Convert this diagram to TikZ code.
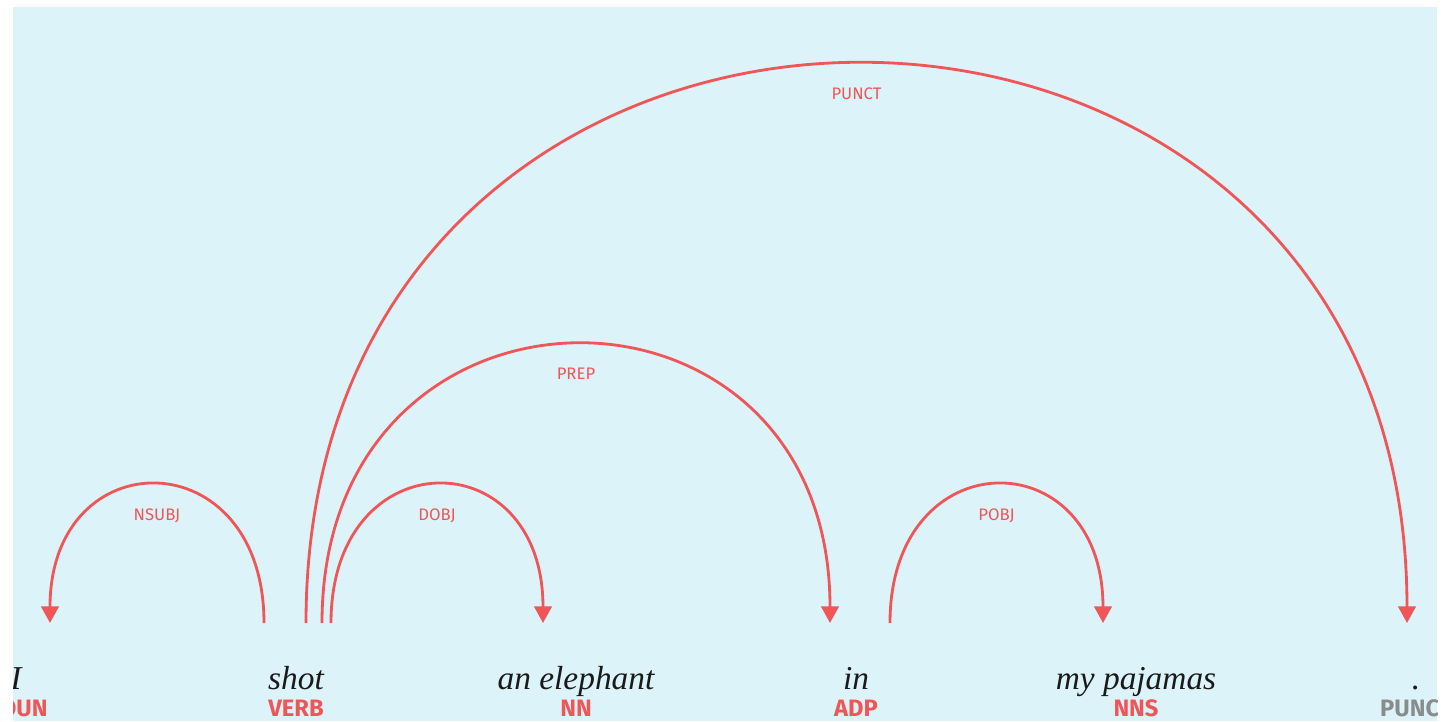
\documentclass[tikz,border=0pt]{standalone}
\usepackage{fontspec}
\setmainfont{Liberation Serif}
\newfontfamily\tagfont{Fira Sans}
\usetikzlibrary{arrows.meta,positioning,calc}
\definecolor{CieloPalido}{RGB}{221,243,250}
\definecolor{RojoArco}{RGB}{239,86,88}
\definecolor{GrisTag}{RGB}{136,140,140}
\definecolor{TintaTexto}{RGB}{26,26,26}
\tikzset{
  wordnode/.style={anchor=base, inner sep=0pt, text=TintaTexto,
    font=\fontsize{19}{21}\selectfont\itshape},
  tagnode/.style={anchor=base, inner sep=0pt, text=#1,
    font=\tagfont\bfseries\fontsize{13.5}{15}\selectfont},
  tagnode/.default=RojoArco,
  arclabel/.style={inner sep=0pt, text=RojoArco,
    font=\tagfont\fontsize{9.5}{11}\selectfont},
  deparc/.style={RojoArco, line width=1.6pt},
  deparrow/.style={deparc, -{Triangle[length=9.5pt, width=10pt]}},
}
\begin{document}
\begin{tikzpicture}[x=0.02cm, y=-0.02cm]
    \useasboundingbox (0,0) rectangle (1441,721);
    \fill[CieloPalido] (13,7) rectangle (1437,721);
    \clip (13,7) rectangle (1437,721);
    % ---- palabras y etiquetas ----
    \node[wordnode] (w1) at (16,689) {I};
    \node[wordnode] (w2) at (296,689) {shot};
    \node[wordnode] (w3) at (576,689) {an elephant};
    \node[wordnode] (w4) at (856,689) {in};
    \node[wordnode] (w5) at (1136,689) {my pajamas};
    \node[wordnode] (w6) at (1416,689) {.};
    \node[tagnode] (t1) at (16,716) {NOUN};
    \node[tagnode] (t2) at (296,716) {VERB};
    \node[tagnode] (t3) at (576,716) {NN};
    \node[tagnode] (t4) at (856,716) {ADP};
    \node[tagnode] (t5) at (1136,716) {NNS};
    \node[tagnode=GrisTag] (t6) at (1416,716) {PUNCT};
    % ---- extremos de los arcos ----
    \coordinate (i-in)       at (50,623);
    \coordinate (shot-punct) at (306,623);
    \coordinate (shot-prep)  at (322,623);
    \coordinate (shot-dobj)  at (331,623);
    \coordinate (shot-out)   at (264,623);
    \coordinate (eleph-in)   at (543,623);
    \coordinate (in-in)      at (830,623);
    \coordinate (in-out)     at (890,623);
    \coordinate (paj-in)     at (1103,623);
    \coordinate (dot-in)     at (1407,623);
    % ---- arcos ----
    \draw[deparrow] (shot-out) .. controls +(0,-184) and +(0,-184) .. (i-in)
      node[arclabel, pos=0.5, below=12.5pt] (l1) {NSUBJ};
    \draw[deparrow] (shot-dobj) .. controls +(0,-184) and +(0,-184) .. (eleph-in)
      node[arclabel, pos=0.5, below=12.5pt] (l2) {DOBJ};
    \draw[deparrow] (shot-prep) .. controls +(0,-371) and +(0,-371) .. (in-in)
      node[arclabel, pos=0.5, below=12.5pt] (l3) {PREP};
    \draw[deparrow] (in-out) .. controls +(0,-184) and +(0,-184) .. (paj-in)
      node[arclabel, pos=0.5, below=12.5pt] (l4) {POBJ};
    \draw[deparrow] (shot-punct) .. controls +(0,-745) and +(0,-745) .. (dot-in)
      node[arclabel, pos=0.5, below=12.5pt] (l5) {PUNCT};
  \end{tikzpicture}
\end{document}
